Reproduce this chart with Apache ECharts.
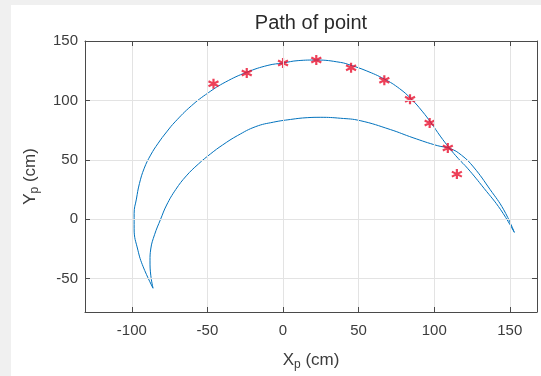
<!DOCTYPE html>
<html>
<head>
<meta charset="utf-8">
<script src="https://cdn.jsdelivr.net/npm/echarts@6/dist/echarts.min.js"></script>
<style>
html,body{margin:0;padding:0;background:#f0f0f0;}
#bg{position:absolute;left:11px;top:5px;width:530px;height:371px;background:#fff;}
#main{position:absolute;left:0;top:0;width:541px;height:376px;}
</style>
</head>
<body>
<div id="bg"></div>
<div id="main"></div>
<script>
// Tick labels
const xTicks = [-100, -50, 0, 50, 100, 150];
const yTicks = [-50, 0, 50, 100, 150];
// Path of point (closed loop)
const pathX = [-86, -92.5, -96, -98.5, -98.5, -97, -95, -91.8, -87.6, -82.6, -77, -71.4, -60.6, -49.5, -38, -24, -10, 0, 10, 22, 38, 45, 55, 67, 77, 85, 92, 98, 104, 110, 116, 122, 133, 144, 153,
               146, 137, 126, 118, 110.6, 102, 86, 71, 51, 38, 25, 16, 5, -6.4, -18, -30, -40, -48, -56, -64, -71, -77, -81, -85, -87.5, -88, -87.5, -86];
const pathY = [-58, -40, -26, -8, 5, 17, 30, 43, 54, 64, 73.5, 82, 95.5, 106.4, 115.5, 123.7, 129.5, 131.5, 133.5, 134, 132, 129.5, 125, 118, 110, 101, 91, 81, 70, 60, 51, 43, 26, 8, -11,
               8, 25, 44, 54, 59.5, 62, 68.6, 75.5, 83, 85, 85.8, 85.5, 84, 81.7, 78, 70.5, 62.5, 55, 46.5, 36.5, 25, 12, 0, -13, -25, -35, -47, -58];
// Marked positions
const markX = [-46, -24, 0, 22, 45, 67, 84, 97, 109, 115];
const markY = [114, 123, 131.5, 134, 127.5, 117, 101, 81, 60, 38];

const FONT = 'Liberation Sans, Arial, Helvetica, sans-serif';
const X_MIN = -131, X_MAX = 168, Y_MIN = -78, Y_MAX = 150;
const boxColor = '#4a4a4a';
const labelColor = '#3c3c3c';

const chart = echarts.init(document.getElementById('main'), null, {renderer: 'canvas'});

function axisCommon(extra) {
  return Object.assign({
    type: 'value', z: 10,
    axisLine: {show: true, onZero: false, lineStyle: {color: boxColor, width: 1}},
    splitLine: {show: false},
  }, extra);
}

const option = {
  animation: false,
  backgroundColor: 'transparent',
  title: {
    text: 'Path of point',
    left: 311, top: 13, textAlign: 'center', padding: 0,
    textStyle: {fontSize: 20, fontWeight: 'normal', color: '#2a2a2a', fontFamily: FONT}
  },
  grid: {left: 85, right: 4, top: 41, bottom: 61, containLabel: false},
  xAxis: [
    axisCommon({
      position: 'bottom', min: X_MIN, max: X_MAX,
      axisTick: {show: true, inside: true, length: 5, customValues: xTicks, lineStyle: {color: boxColor}},
      axisLabel: {show: true, customValues: xTicks, margin: 11, fontSize: 15, color: labelColor, fontFamily: FONT},
      name: '{a|X}{s|p}{a| (cm)}',
      nameLocation: 'middle', nameGap: 37,
      nameTextStyle: {
        color: labelColor, fontFamily: FONT, fontSize: 17,
        rich: {
          a: {fontSize: 17, color: labelColor, fontFamily: FONT},
          s: {fontSize: 12, color: labelColor, fontFamily: FONT, padding: [10, 0, 0, 0]}
        }
      }
    }),
    axisCommon({
      position: 'top', min: X_MIN, max: X_MAX,
      axisTick: {show: true, inside: true, length: 5, customValues: xTicks, lineStyle: {color: boxColor}},
      axisLabel: {show: false}
    })
  ],
  yAxis: [
    axisCommon({
      position: 'left', min: Y_MIN, max: Y_MAX,
      axisTick: {show: true, inside: true, length: 5, customValues: yTicks, lineStyle: {color: boxColor}},
      axisLabel: {show: true, customValues: yTicks, margin: 7, fontSize: 15, color: labelColor, fontFamily: FONT},
      name: '{a|Y}{s|p}{a| (cm)}',
      nameLocation: 'middle', nameGap: 44, nameRotate: 90,
      nameTextStyle: {
        color: labelColor, fontFamily: FONT, fontSize: 17,
        rich: {
          a: {fontSize: 17, color: labelColor, fontFamily: FONT},
          s: {fontSize: 12, color: labelColor, fontFamily: FONT, padding: [10, 0, 0, 0]}
        }
      }
    }),
    axisCommon({
      position: 'right', min: Y_MIN, max: Y_MAX,
      axisTick: {show: true, inside: true, length: 5, customValues: yTicks, lineStyle: {color: boxColor}},
      axisLabel: {show: false}
    })
  ],
  series: [
    {
      type: 'line', name: 'grid', data: [], z: 1, silent: true,
      markLine: {
        silent: true, symbol: ['none', 'none'], animation: false,
        label: {show: false},
        lineStyle: {color: '#e3e3e3', width: 1, type: 'solid'},
        data: xTicks.map(v => ({xAxis: v})).concat(yTicks.map(v => ({yAxis: v})))
      }
    },
    {
      type: 'line', name: 'path', z: 3,
      data: pathX.map((x, i) => [x, pathY[i]]),
      showSymbol: false, smooth: 0.45,
      lineStyle: {color: '#0072BD', width: 1}
    },
    {
      type: 'scatter', name: 'points', z: 4,
      data: markX.map((x, i) => [x, markY[i]]),
      symbol: 'path://M0,-5L0,5M-4.33,-2.5L4.33,2.5M-4.33,2.5L4.33,-2.5',
      symbolSize: 10,
      itemStyle: {color: 'rgba(0,0,0,0)', borderColor: '#e8102e', borderWidth: 2.2}
    }
  ]
};
chart.setOption(option);
</script>
</body>
</html>
